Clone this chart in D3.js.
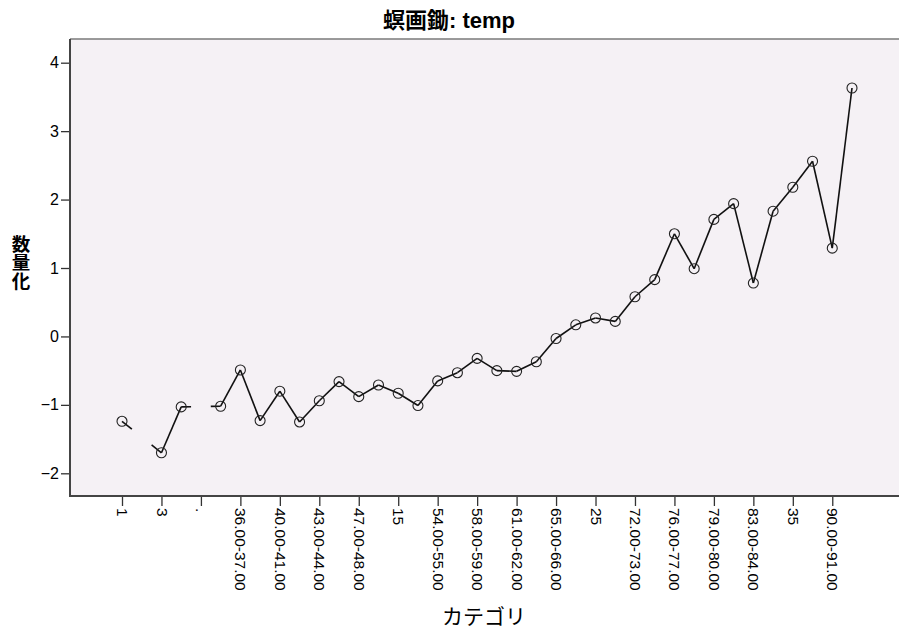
<!DOCTYPE html>
<html>
<head>
<meta charset="utf-8">
<script src="https://cdn.jsdelivr.net/npm/d3@7"></script>
<style>
  html, body { margin: 0; padding: 0; background: #ffffff; }
  svg { display: block; }
  text { font-family: "Liberation Sans", Arial, "Noto Sans CJK JP", sans-serif; fill: #000; }
</style>
</head>
<body>
<svg id="chart" width="899" height="632"></svg>
<script>
// ---- data ----
const chartTitle = "螟画鋤: temp";
const xTitle = "カテゴリ";
const yTitle = "数量化";
const categories = d3.range(1, 39); // 38 categories
const values = [
  -1.24, null, -1.70, -1.03, null, -1.02, -0.49, -1.23, -0.80, -1.25,
  -0.94, -0.66, -0.88, -0.71, -0.83, -1.01, -0.65, -0.53, -0.32, -0.50,
  -0.51, -0.37, -0.03, 0.17, 0.27, 0.22, 0.58, 0.83, 1.50, 0.99,
  1.71, 1.94, 0.78, 1.83, 2.18, 2.56, 1.29, 3.63
];
const tickLabels = [
  "1", "3", ".", "36.00-37.00", "40.00-41.00", "43.00-44.00", "47.00-48.00",
  "15", "54.00-55.00", "58.00-59.00", "61.00-62.00", "65.00-66.00", "25",
  "72.00-73.00", "76.00-77.00", "79.00-80.00", "83.00-84.00", "35", "90.00-91.00"
];
const tickCategories = tickLabels.map((_, i) => 1 + 2 * i);
const yTicks = [-2, -1, 0, 1, 2, 3, 4];

// ---- layout ----
const svg = d3.select("#chart");
const frame = { left: 70, top: 39, right: 902, bottom: 496 };

const x = d3.scaleLinear().domain([1, 38]).range([122, 852]);
const y = d3.scaleLinear().domain([-2, 4]).range([473.3, 62.7]);

// plot background
svg.append("rect")
  .attr("x", frame.left).attr("y", frame.top)
  .attr("width", frame.right - frame.left).attr("height", frame.bottom - frame.top)
  .attr("fill", "#f5f1f5");

// top border
svg.append("line")
  .attr("x1", frame.left).attr("x2", frame.right)
  .attr("y1", frame.top).attr("y2", frame.top)
  .attr("stroke", "#7a7a7a").attr("stroke-width", 1.6);

// Y axis
const yAxis = d3.axisLeft(y).tickValues(yTicks).tickSize(9).tickPadding(2).tickFormat(d3.format("d"));
const gy = svg.append("g").attr("transform", `translate(${frame.left},0)`).call(yAxis);
gy.select(".domain").remove();
gy.selectAll(".tick line").attr("stroke", "#333").attr("stroke-width", 1.3);
gy.selectAll(".tick text").style("font-size", "16px").attr("fill", "#000");
svg.append("line")
  .attr("x1", frame.left).attr("x2", frame.left)
  .attr("y1", frame.top).attr("y2", frame.bottom)
  .attr("stroke", "#444").attr("stroke-width", 2);

// X axis
const xAxis = d3.axisBottom(x).tickValues(tickCategories).tickSize(10).tickPadding(0)
  .tickFormat((d, i) => tickLabels[i]);
const gx = svg.append("g").attr("transform", `translate(0,${frame.bottom})`).call(xAxis);
gx.select(".domain").remove();
gx.selectAll(".tick line").attr("stroke", "#333").attr("stroke-width", 1.3);
gx.selectAll(".tick text")
  .style("font-size", "15.5px")
  .attr("fill", "#000")
  .attr("text-anchor", "start")
  .attr("dy", "0.35em")
  .attr("transform", "translate(0,12) rotate(90)")
  .attr("x", 0).attr("y", 0);
svg.append("line")
  .attr("x1", frame.left - 1).attr("x2", frame.right)
  .attr("y1", frame.bottom).attr("y2", frame.bottom)
  .attr("stroke", "#444").attr("stroke-width", 2);

// ---- line segments (with half-stubs around missing categories) ----
const pts = categories.map((c, i) => ({ c, v: values[i] }));
const segs = [];
for (let i = 0; i < pts.length; i++) {
  if (pts[i].v === null) continue;
  let j = i + 1;
  while (j < pts.length && pts[j].v === null) j++;
  if (j >= pts.length) break;
  const a = pts[i], b = pts[j];
  if (j === i + 1) {
    segs.push([[a.c, a.v], [b.c, b.v]]);
  } else {
    const interp = t => a.v + (b.v - a.v) * (t - a.c) / (b.c - a.c);
    const leftEnd = a.c + 0.5, rightStart = b.c - 0.5;
    segs.push([[a.c, a.v], [leftEnd, interp(leftEnd)]]);
    segs.push([[rightStart, interp(rightStart)], [b.c, b.v]]);
  }
}
const line = d3.line().x(d => x(d[0])).y(d => y(d[1]));
svg.append("g").selectAll("path").data(segs).join("path")
  .attr("d", line)
  .attr("fill", "none")
  .attr("stroke", "#111")
  .attr("stroke-width", 1.6);

// markers
svg.append("g").selectAll("circle").data(pts.filter(p => p.v !== null)).join("circle")
  .attr("cx", d => x(d.c)).attr("cy", d => y(d.v))
  .attr("r", 5)
  .attr("fill", "none")
  .attr("stroke", "#222")
  .attr("stroke-width", 1.1);

// ---- titles ----
svg.append("text")
  .attr("x", 449).attr("y", 28)
  .attr("text-anchor", "middle")
  .style("font-size", "22px").style("font-weight", "bold")
  .text(chartTitle);

svg.append("text")
  .attr("x", 484).attr("y", 624)
  .attr("text-anchor", "middle")
  .style("font-size", "21px")
  .text(xTitle);

svg.append("text")
  .attr("x", 21).attr("y", 262)
  .attr("text-anchor", "middle")
  .style("writing-mode", "vertical-rl")
  .style("font-family", "'Noto Sans CJK JP', sans-serif")
  .style("font-size", "18.5px").style("font-weight", "bold")
  .text(yTitle);
</script>
</body>
</html>
